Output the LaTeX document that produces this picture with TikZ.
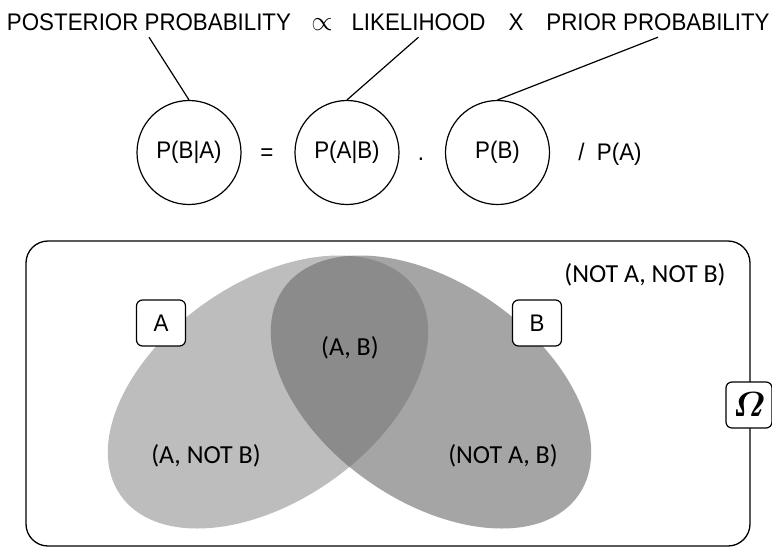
\documentclass[tikz,border=0pt]{standalone}
\usepackage{amsmath}
\usepackage{fontspec}
\newfontfamily\topf{Liberation Sans}[FakeStretch=0.93]
\newfontfamily\vennf{Carlito}
\definecolor{aCol}{HTML}{BDBDBD}
\definecolor{bCol}{HTML}{A5A5A5}
\definecolor{lensCol}{HTML}{8B8B8B}
\begin{document}
\begin{tikzpicture}[x=1pt,y=-1pt,
  toptxt/.style={font=\topf\fontsize{24}{28}\selectfont, anchor=base, inner sep=0pt, text depth=0pt},
  eqcircle/.style={circle, draw, line width=1.2pt, minimum size=104pt, inner sep=0pt, font=\topf\fontsize{24}{28}\selectfont},
  venntxt/.style={font=\vennf\fontsize{26}{30}\selectfont, anchor=base, inner sep=0pt},
  setbox/.style={draw, fill=white, line width=1.2pt, rounded corners=6pt, minimum width=49pt, minimum height=46pt, inner sep=0pt, font=\topf\fontsize{24}{28}\selectfont},
  link/.style={line width=1.2pt}
]
\useasboundingbox (0,0) rectangle (772,547);
\fill[white] (0,0) rectangle (772,547);

% top formula words
\node[toptxt] (post) at (149,30) {POSTERIOR PROBABILITY};
\node[toptxt] (prop) at (322,30) {\scalebox{1.1}{$\propto$}};
\node[toptxt] (like) at (418.5,30) {LIKELIHOOD};
\node[toptxt] (times) at (516,30) {X};
\node[toptxt] (prior) at (658,30) {PRIOR PROBABILITY};

% equation circles
\node[eqcircle] (pba) at (189,152.5) {P(B|A)};
\node[eqcircle] (pab) at (347,152.5) {P(A|B)};
\node[eqcircle] (pb) at (497.5,152.5) {P(B)};
\node[toptxt] (eq) at (267,160) {=};
\node[toptxt] (dot) at (421,160) {.};
\node[toptxt] (div) at (610,160) {/\ \ P(A)};

\draw[link] ([yshift=-7pt]post.south) -- (pba.north);
\draw[link] ([yshift=-7pt]like.south) -- (pab.north);
\draw[link] ([yshift=-7pt]prior.south) -- (pb.north);

% Venn diagram
\fill[aCol, rotate around={35:(268,392)}] (268,392) ellipse [x radius=180pt, y radius=109pt];
\fill[bCol, rotate around={-35:(431,392)}] (431,392) ellipse [x radius=180pt, y radius=109pt];
\begin{scope}
  \clip[rotate around={35:(268,392)}] (268,392) ellipse [x radius=180pt, y radius=109pt];
  \fill[lensCol, rotate around={-35:(431,392)}] (431,392) ellipse [x radius=180pt, y radius=109pt];
\end{scope}

\draw[line width=1.3pt, rounded corners=22pt] (26,241) rectangle (750,546);

\node[venntxt] (anb) at (206,463) {(A, NOT B)};
\node[venntxt] (nab) at (503,463) {(NOT A, B)};
\node[venntxt] (ab) at (350,355) {(A, B)};
\node[venntxt] (nanb) at (645,282) {(NOT A, NOT B)};

\node[setbox] (setA) at (161,323) {A};
\node[setbox] (setB) at (537,323) {B};
\node[setbox, minimum width=46pt] (omega) at (749,405) {\scalebox{1.4}{$\boldsymbol{\varOmega}$}};
\end{tikzpicture}
\end{document}
